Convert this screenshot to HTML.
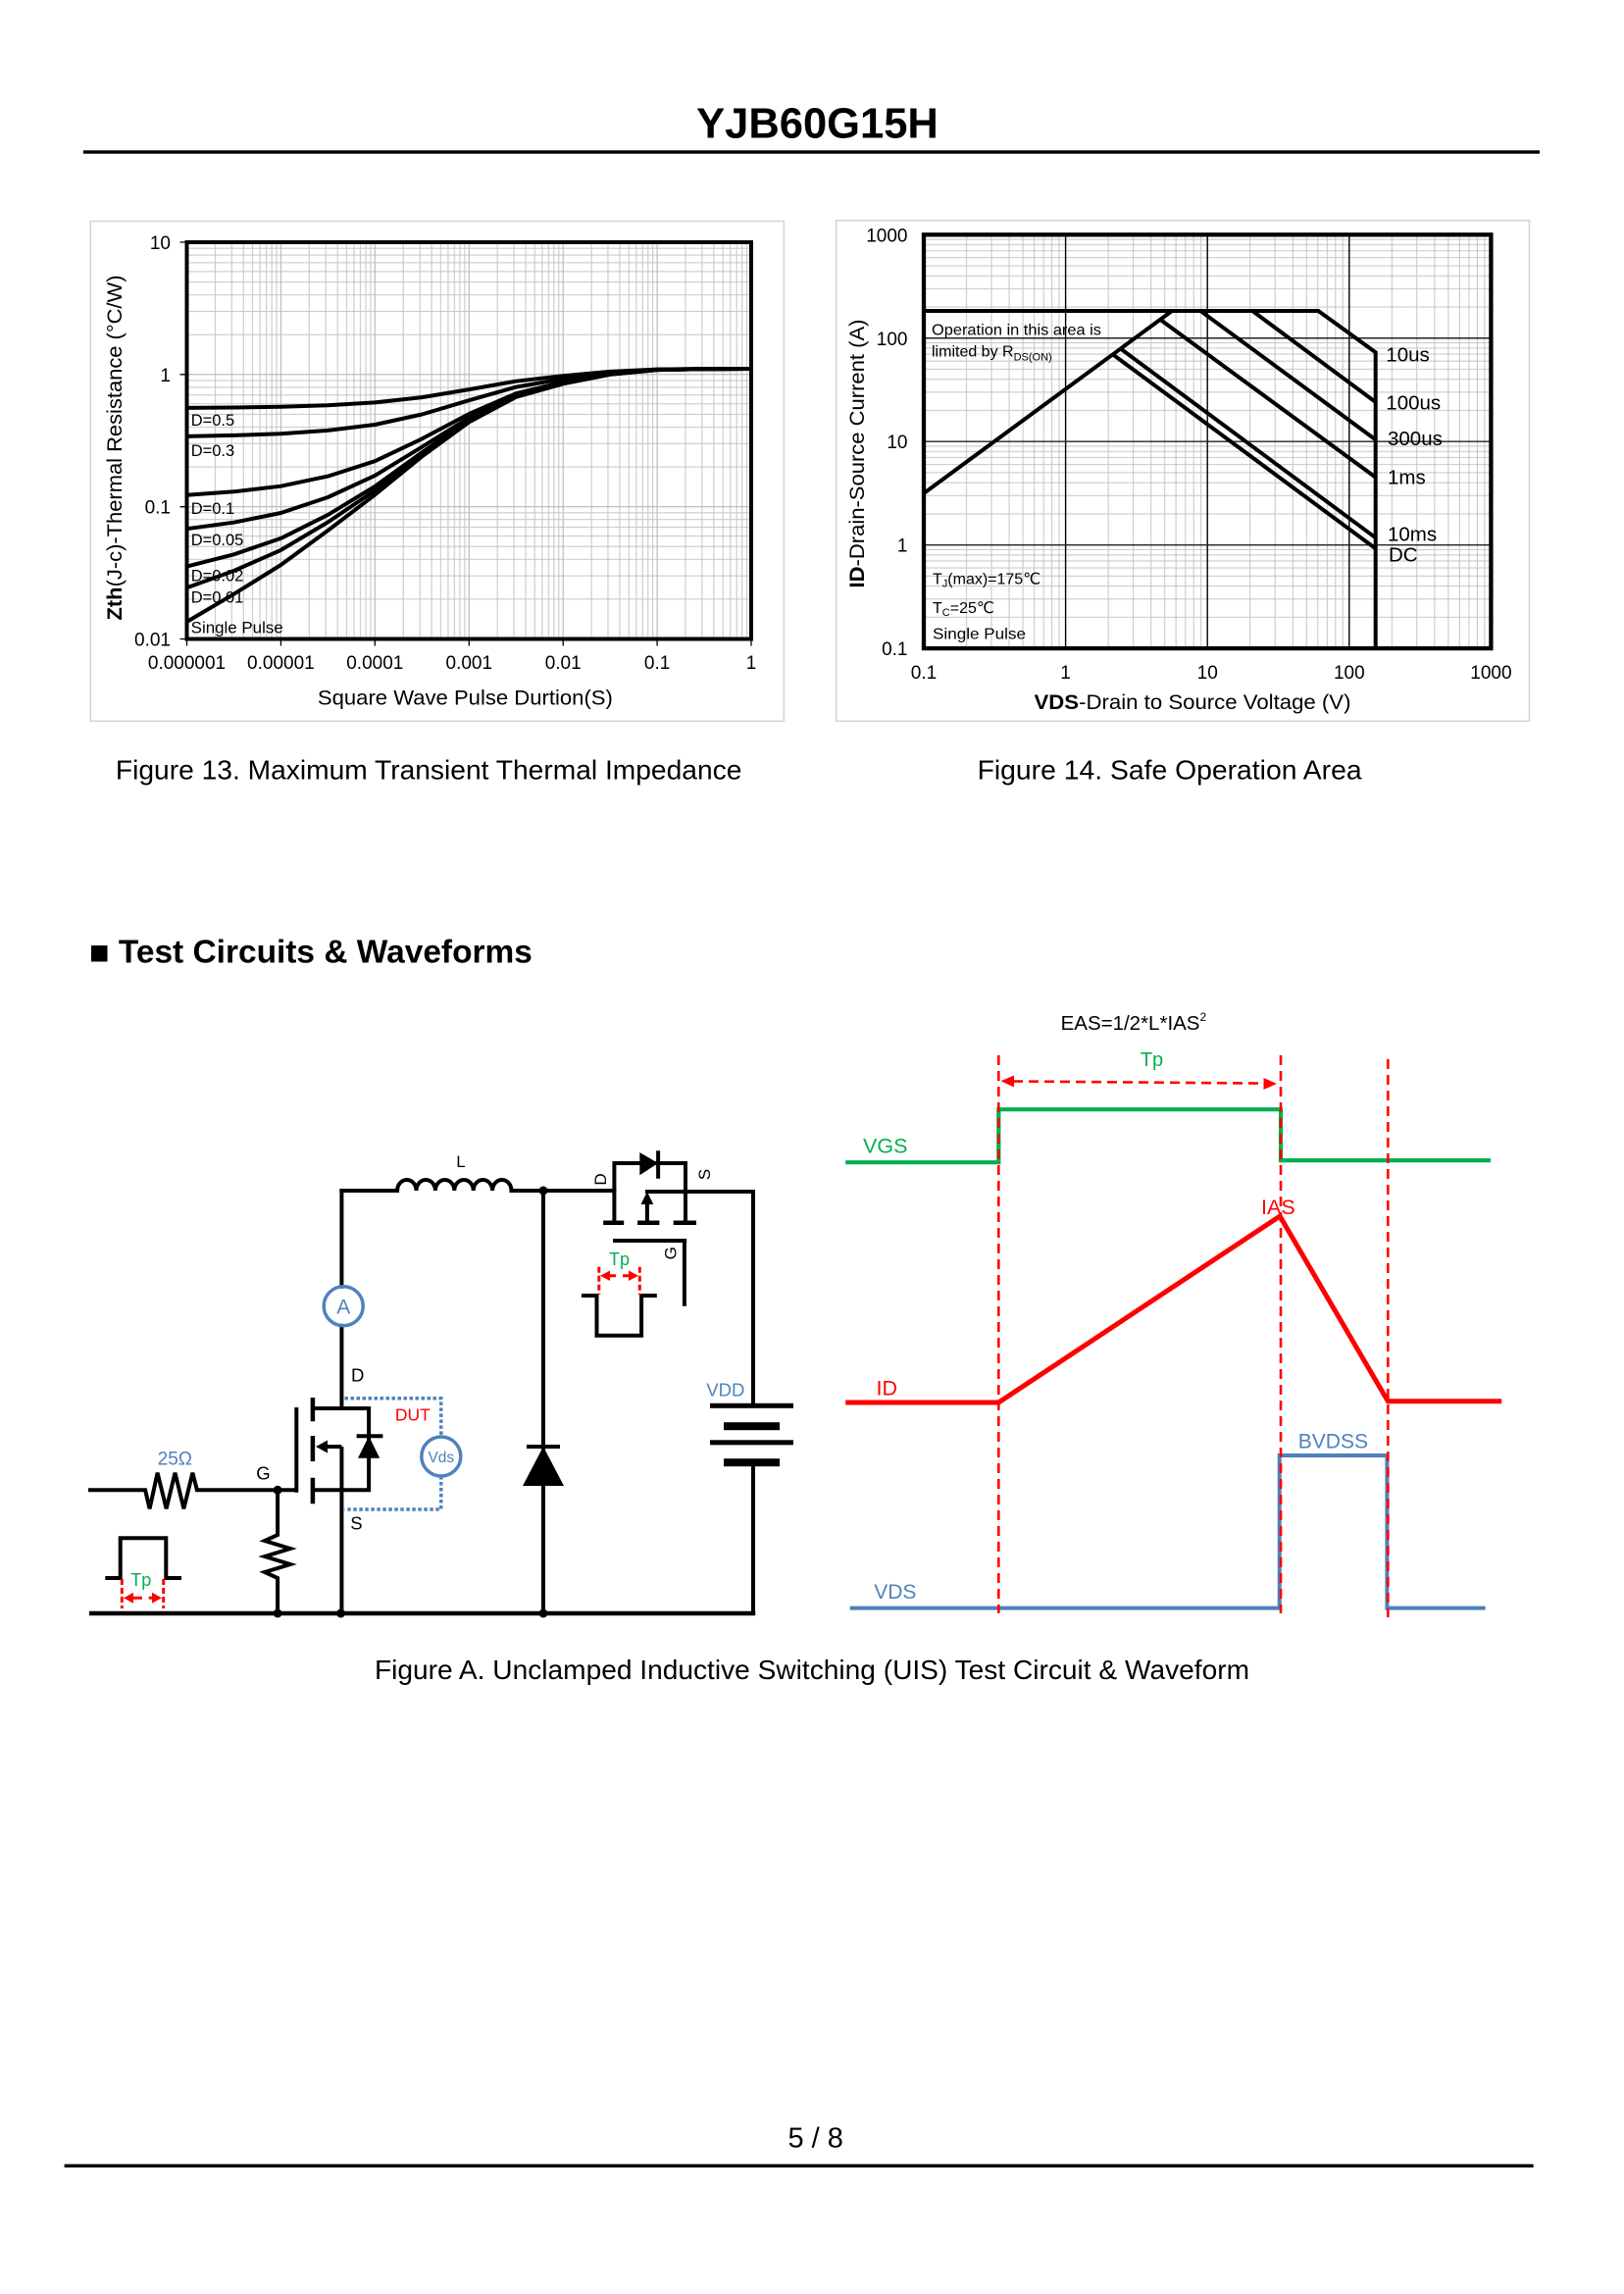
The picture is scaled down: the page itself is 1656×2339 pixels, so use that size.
<!DOCTYPE html>
<html><head><meta charset="utf-8">
<style>
html,body{margin:0;padding:0;background:#fff}
svg{display:block}
text{font-family:"Liberation Sans","DejaVu Sans","Noto Sans CJK SC",sans-serif;fill:#000}
</style></head>
<body>
<svg width="1656" height="2339" viewBox="0 0 1656 2339">
<defs>
<pattern id="p1v" patternUnits="userSpaceOnUse" x="190" y="247" width="95.92" height="404.5">
<g fill="#c4c4c4"><rect x="28.87" y="0" width="1" height="404.5"/><rect x="45.77" y="0" width="1" height="404.5"/><rect x="57.75" y="0" width="1" height="404.5"/><rect x="67.05" y="0" width="1" height="404.5"/><rect x="74.64" y="0" width="1" height="404.5"/><rect x="81.06" y="0" width="1" height="404.5"/><rect x="86.62" y="0" width="1" height="404.5"/><rect x="91.53" y="0" width="1" height="404.5"/></g>
</pattern>
<pattern id="p1h" patternUnits="userSpaceOnUse" x="190.5" y="246.5" width="575.5" height="134.83">
<g fill="#c4c4c4"><rect x="0" y="6.17" width="575.5" height="1"/><rect x="0" y="13.07" width="575.5" height="1"/><rect x="0" y="20.89" width="575.5" height="1"/><rect x="0" y="29.91" width="575.5" height="1"/><rect x="0" y="40.59" width="575.5" height="1"/><rect x="0" y="53.66" width="575.5" height="1"/><rect x="0" y="70.5" width="575.5" height="1"/><rect x="0" y="94.24" width="575.5" height="1"/></g>
</pattern>
<pattern id="p2v" patternUnits="userSpaceOnUse" x="941.5" y="239.3" width="144.6" height="421.8">
<g fill="#c4c4c4"><rect x="43.53" y="0" width="1" height="421.8"/><rect x="68.99" y="0" width="1" height="421.8"/><rect x="87.06" y="0" width="1" height="421.8"/><rect x="101.07" y="0" width="1" height="421.8"/><rect x="112.52" y="0" width="1" height="421.8"/><rect x="122.2" y="0" width="1" height="421.8"/><rect x="130.59" y="0" width="1" height="421.8"/><rect x="137.98" y="0" width="1" height="421.8"/></g>
</pattern>
<pattern id="p2h" patternUnits="userSpaceOnUse" x="942" y="238.8" width="578.4" height="105.45">
<g fill="#c4c4c4"><rect x="0" y="4.83" width="578.4" height="1"/><rect x="0" y="10.22" width="578.4" height="1"/><rect x="0" y="16.33" width="578.4" height="1"/><rect x="0" y="23.39" width="578.4" height="1"/><rect x="0" y="31.74" width="578.4" height="1"/><rect x="0" y="41.96" width="578.4" height="1"/><rect x="0" y="55.14" width="578.4" height="1"/><rect x="0" y="73.71" width="578.4" height="1"/></g>
</pattern>
</defs>

<!-- Header -->
<text x="833.5" y="140.7" font-size="43.5" font-weight="bold" text-anchor="middle">YJB60G15H</text>
<rect x="85" y="153.3" width="1485" height="3.4" fill="#000"/>

<!-- ===== Chart 1 ===== -->
<rect x="92.3" y="225.5" width="707" height="509.8" fill="none" stroke="#d4d4d4" stroke-width="1.5"/>
<rect x="190.5" y="247" width="575.5" height="404.5" fill="url(#p1v)"/>
<rect x="190.5" y="247" width="575.5" height="404.5" fill="url(#p1h)"/>
<path d="M286.4,247V651.5M382.3,247V651.5M478.3,247V651.5M574.2,247V651.5M670.1,247V651.5M190.5,381.8H766M190.5,516.7H766" stroke="#b8b8b8" stroke-width="1.1" fill="none"/>
<g fill="none" stroke="#000" stroke-width="4" stroke-linejoin="round">
<polyline points="190.5,634 238.5,605.7 286.4,576 334.4,540.9 382.3,504.5 430.3,465.4 478.3,430.4 526.2,404.8 574.2,391.3 622.1,381.8 670.1,377.1 718,376.2 766,376"/>
<polyline points="190.5,599.2 238.5,582 286.4,560.9 334.4,532.4 382.3,500.1 430.3,463.3 478.3,429.4 526.2,404.4 574.2,391.1 622.1,381.8 670.1,377.1 718,376.2 766,376"/>
<polyline points="190.5,577.6 238.5,565.3 286.4,548.9 334.4,524.9 382.3,495.9 430.3,461.3 478.3,428.5 526.2,404 574.2,390.9 622.1,381.7 670.1,377.1 718,376.2 766,376"/>
<polyline points="190.5,539.2 238.5,532.7 286.4,523 334.4,507 382.3,484.9 430.3,455.7 478.3,426 526.2,402.9 574.2,390.4 622.1,381.6 670.1,377 718,376.2 766,376"/>
<polyline points="190.5,504.7 238.5,501.3 286.4,495.7 334.4,485.6 382.3,470.2 430.3,447.4 478.3,422 526.2,401.2 574.2,389.6 622.1,381.2 670.1,376.9 718,376.2 766,376"/>
<polyline points="190.5,444.9 238.5,443.9 286.4,442.2 334.4,438.9 382.3,433 430.3,422.5 478.3,408.2 526.2,394.6 574.2,386.3 622.1,380 670.1,376.8 718,376.1 766,376"/>
<polyline points="190.5,415.9 238.5,415.5 286.4,414.7 334.4,413.2 382.3,410.4 430.3,405.1 478.3,397.1 526.2,388.7 574.2,383.2 622.1,378.9 670.1,376.6 718,376.1 766,376"/>
</g>
<rect x="190.5" y="247" width="575.5" height="404.5" fill="none" stroke="#000" stroke-width="4"/>
<g stroke="#000" stroke-width="1.3">
<path d="M183.5,247H190.5M183.5,381.8H190.5M183.5,516.7H190.5M183.5,651.5H190.5"/>
<path d="M190.5,651.5V658.5M286.4,651.5V658.5M382.3,651.5V658.5M478.3,651.5V658.5M574.2,651.5V658.5M670.1,651.5V658.5M766,651.5V658.5"/>
</g>
<g font-size="16.5">
<text x="194.7" y="433.8">D=0.5</text>
<text x="194.7" y="464.8">D=0.3</text>
<text x="194.7" y="524.1">D=0.1</text>
<text x="194.7" y="556.1">D=0.05</text>
<text x="194.7" y="592.3">D=0.02</text>
<text x="194.7" y="614.7">D=0.01</text>
<text x="194.7" y="645.3" textLength="94" lengthAdjust="spacingAndGlyphs">Single Pulse</text>
</g>
<g font-size="19" text-anchor="end">
<text x="174" y="254">10</text>
<text x="174" y="388.8">1</text>
<text x="174" y="523.7">0.1</text>
<text x="174" y="658.3">0.01</text>
</g>
<g font-size="19" text-anchor="middle">
<text x="190.5" y="682">0.000001</text>
<text x="286.4" y="682">0.00001</text>
<text x="382.3" y="682">0.0001</text>
<text x="478.3" y="682">0.001</text>
<text x="574.2" y="682">0.01</text>
<text x="670.1" y="682">0.1</text>
<text x="766" y="682">1</text>
</g>
<text x="474.4" y="718.5" font-size="21.5" text-anchor="middle" textLength="301" lengthAdjust="spacingAndGlyphs">Square Wave Pulse Durtion(S)</text>
<text transform="translate(124,456.5) rotate(-90)" font-size="21.5" text-anchor="middle" textLength="352" lengthAdjust="spacingAndGlyphs"><tspan font-weight="bold">Zth</tspan>(J-c)-Thermal  Resistance (°C/W)</text>

<!-- ===== Chart 2 ===== -->
<rect x="852.7" y="224.8" width="706.8" height="510.5" fill="none" stroke="#d4d4d4" stroke-width="1.5"/>
<rect x="942" y="239.3" width="578.4" height="421.8" fill="url(#p2v)"/>
<rect x="942" y="239.3" width="578.4" height="421.8" fill="url(#p2h)"/>
<path d="M1086.6,239.3V661.1M1231.2,239.3V661.1M1375.8,239.3V661.1" stroke="#000" stroke-width="1.4" fill="none"/>
<path d="M942,344.75H1520.4M942,450.2H1520.4M942,555.65H1520.4" stroke="#222" stroke-width="1.4" fill="none"/>
<g fill="none" stroke="#000" stroke-width="4" stroke-linejoin="miter">
<polyline points="942,317 1344.3,317 1402.7,359.3 1402.7,661"/>
<line x1="942" y1="503" x2="1195.1" y2="317"/>
<line x1="1277.1" y1="317" x2="1402.7" y2="410"/>
<line x1="1224.2" y1="317" x2="1402.7" y2="448.3"/>
<line x1="1183" y1="325.8" x2="1402.7" y2="486.7"/>
<line x1="1142.6" y1="355.5" x2="1402.7" y2="548.3"/>
<line x1="1134.6" y1="361.3" x2="1402.7" y2="559.3"/>
</g>
<rect x="942" y="239.3" width="578.4" height="421.8" fill="none" stroke="#000" stroke-width="4.3"/>
<g font-size="19" text-anchor="end">
<text x="925.5" y="246.3">1000</text>
<text x="925.5" y="351.8">100</text>
<text x="925.5" y="457.2">10</text>
<text x="925.5" y="562.6">1</text>
<text x="925.5" y="668.1">0.1</text>
</g>
<g font-size="19" text-anchor="middle">
<text x="942" y="692">0.1</text>
<text x="1086.6" y="692">1</text>
<text x="1231.2" y="692">10</text>
<text x="1375.8" y="692">100</text>
<text x="1520.4" y="692">1000</text>
</g>
<text x="1216" y="723" font-size="21.5" text-anchor="middle" textLength="323" lengthAdjust="spacingAndGlyphs"><tspan font-weight="bold">VDS</tspan>-Drain to Source Voltage (V)</text>
<text transform="translate(881,462.5) rotate(-90)" font-size="21.5" text-anchor="middle" textLength="274" lengthAdjust="spacingAndGlyphs"><tspan font-weight="bold">ID</tspan>-Drain-Source  Current (A)</text>
<g font-size="16">
<text x="950" y="341.7" textLength="173" lengthAdjust="spacingAndGlyphs">Operation in this area is</text>
<text x="950" y="363.3">limited by R<tspan font-size="11" dy="4">DS(ON)</tspan></text>
<text x="951" y="595.7">T<tspan font-size="11" dy="3">J</tspan><tspan dy="-3">(max)=175℃</tspan></text>
<text x="951" y="624.9">T<tspan font-size="11" dy="3">C</tspan><tspan dy="-3">=25℃</tspan></text>
<text x="951" y="651.5" textLength="95" lengthAdjust="spacingAndGlyphs">Single Pulse</text>
</g>
<g font-size="20.5">
<text x="1413.3" y="368.3">10us</text>
<text x="1413.3" y="417.3">100us</text>
<text x="1415" y="454">300us</text>
<text x="1415" y="493.3">1ms</text>
<text x="1415" y="551.7">10ms</text>
<text x="1416" y="572.3">DC</text>
</g>

<!-- Captions -->
<text x="117.9" y="794.5" font-size="27.5" textLength="638.5" lengthAdjust="spacingAndGlyphs">Figure 13.  Maximum Transient Thermal Impedance</text>
<text x="996.6" y="794.5" font-size="27.5" textLength="392" lengthAdjust="spacingAndGlyphs">Figure 14.  Safe Operation Area</text>

<!-- Section heading -->
<rect x="93" y="964" width="16.5" height="16.5" fill="#000"/>
<text x="120.9" y="981.5" font-size="33" font-weight="bold" textLength="422" lengthAdjust="spacingAndGlyphs">Test Circuits &amp; Waveforms</text>

<!-- ===== Circuit ===== -->
<g fill="none" stroke="#000" stroke-width="4" stroke-linecap="square">
<path d="M348.4,1214H405.1"/>
<path d="M405.1,1214a9.7,11 0 0 1 19.4,0a9.7,11 0 0 1 19.4,0a9.7,11 0 0 1 19.4,0a9.7,11 0 0 1 19.4,0a9.7,11 0 0 1 19.4,0a9.7,11 0 0 1 19.4,0" stroke-linecap="butt"/>
<path d="M521.4,1214H626.4"/>
<path d="M348.4,1214V1311.7M348.4,1351.7V1436"/>
<path d="M320.2,1436H376.1V1519.3H320.2"/>
<path d="M363.6,1464.3H390.4" stroke-linecap="butt"/>
<path d="M318.9,1425V1449.3M318.9,1464V1490M318.9,1506.7V1533.3" stroke-width="4.5" stroke-linecap="butt"/>
<path d="M302.3,1435V1521.7" stroke-linecap="butt"/>
<path d="M90,1519.3H148.1L152.6,1538.3L160.6,1501.7L169.6,1538.3L178.5,1501.7L187.4,1538.3L196.4,1501.7L200.9,1519.3H302.3" stroke-linejoin="miter" stroke-linecap="butt"/>
<path d="M283.1,1519.3V1565L270,1571L296,1579L270,1587L296,1595L270,1603L283.1,1609V1645" stroke-linecap="butt"/>
<path d="M348.4,1475H333" stroke-linecap="butt"/>
<path d="M348.4,1475V1645" stroke-linecap="butt"/>
<path d="M93.3,1645H768" stroke-width="4.5"/>
<path d="M659.9,1215H768V1433M768,1491V1645"/>
<path d="M554,1214V1645" stroke-linecap="butt"/>
<path d="M537,1475H571" stroke-linecap="butt"/>
<path d="M626.4,1246.7V1186H699V1246.7" stroke-linecap="butt"/>
<path d="M671.1,1173.3V1201.7" stroke-linecap="butt"/>
<path d="M615.2,1246.7H636.2M650.1,1246.7H672.4M686.7,1246.7H710" stroke-width="4.5" stroke-linecap="butt"/>
<path d="M659.9,1246.7V1224" stroke-linecap="butt"/>
<path d="M625,1265H700.2M697.9,1265V1331.7" stroke-linecap="butt"/>
<path d="M592.9,1321H608.5V1361.7H654.1V1321H669.8" stroke-linecap="butt"/>
<path d="M107.3,1609H122.7V1568.3H169.3V1609H185" stroke-linecap="butt"/>
</g>
<g fill="#000">
<polygon points="376.1,1464.3 365,1486.7 387.2,1486.7"/>
<polygon points="322,1475 334,1468.5 334,1481.5"/>
<polygon points="554,1475 533,1515 575,1515"/>
<polygon points="652.3,1175 652.3,1198.3 671.1,1186"/>
<polygon points="659.9,1215 653.5,1228 666.3,1228"/>
<circle cx="283.1" cy="1519.3" r="4.5"/>
<circle cx="283.1" cy="1645" r="4.5"/>
<circle cx="347.5" cy="1645" r="4.5"/>
<circle cx="554" cy="1645" r="4.5"/>
<circle cx="554" cy="1214" r="4.5"/>
<rect x="724" y="1430.8" width="85" height="5"/>
<rect x="738" y="1450.2" width="57" height="8"/>
<rect x="724" y="1468.3" width="85" height="5"/>
<rect x="738" y="1487.2" width="57" height="8"/>
</g>
<g fill="none" stroke="#4f81bd" stroke-width="3.5">
<circle cx="350.2" cy="1331.7" r="20"/>
<circle cx="449.8" cy="1485" r="20"/>
<path d="M351.5,1425.7H449.8V1465M449.8,1505V1539H351.5" stroke-dasharray="3.5 2.5"/>
</g>
<g stroke="#f00" stroke-width="3" fill="none">
<path d="M610.8,1291.7V1320M652.3,1291.7V1320M124.3,1610V1640M166.7,1610V1640" stroke-dasharray="6 3"/>
<path d="M621,1300.7H628M635,1300.7H642M135,1629.3H145M151.7,1629.3H158"/>
</g>
<g fill="#f00">
<polygon points="612,1300.7 622,1295.5 622,1306"/>
<polygon points="651,1300.7 641,1295.5 641,1306"/>
<polygon points="126,1629.3 136,1623.8 136,1634.8"/>
<polygon points="165,1629.3 155,1623.8 155,1634.8"/>
</g>
<g font-size="18.5">
<text x="470" y="1190" text-anchor="middle" font-size="17">L</text>
<text x="358" y="1408.3">D</text>
<text x="261.2" y="1508.3">G</text>
<text x="357.3" y="1559.3">S</text>
<text transform="translate(612,1202.5) rotate(-90)" text-anchor="middle" dy="6" font-size="17">D</text>
<text transform="translate(718,1197.5) rotate(-90)" text-anchor="middle" dy="6" font-size="17">S</text>
<text transform="translate(683.4,1277.8) rotate(-90)" text-anchor="middle" dy="6" font-size="17">G</text>
</g>
<text x="402.9" y="1448.3" font-size="17.5" style="fill:#f00">DUT</text>
<g font-size="19" style="fill:#4f81bd">
<text x="350.2" y="1339.5" text-anchor="middle" font-size="21" style="fill:#4f81bd">A</text>
<text x="449.8" y="1491" text-anchor="middle" font-size="15.5" style="fill:#4f81bd">Vds</text>
<text x="178.3" y="1493.3" text-anchor="middle" style="fill:#4f81bd">25Ω</text>
<text x="720.3" y="1423.3" font-size="18.5" style="fill:#4f81bd">VDD</text>
</g>
<text x="621" y="1290" font-size="18" style="fill:#00b050">Tp</text>
<text x="133.3" y="1617" font-size="18" style="fill:#00b050">Tp</text>

<!-- ===== Waveforms ===== -->
<g fill="none" stroke-linejoin="miter" stroke-linecap="butt">
<path d="M862.2,1185.2H1018.3V1131.2H1306V1183.1H1520" stroke="#00b050" stroke-width="4.2"/>
<path d="M862.2,1430H1018.3L1305.1,1240L1415.3,1428.8H1531.2" stroke="#f00" stroke-width="5"/>
<path d="M866.7,1639.6H1304.7V1484H1414.4V1639.6H1514.7" stroke="#4f81bd" stroke-width="4"/>
<path d="M1018.3,1076V1645M1306,1076V1645M1415.3,1080V1649" stroke="#f00" stroke-width="2.6" stroke-dasharray="10 6"/>
<path d="M1033,1102.5L1291,1104.6" stroke="#f00" stroke-width="2.6" stroke-dasharray="10 6"/>
</g>
<g fill="#f00">
<polygon points="1020.5,1102.3 1034,1096.5 1034,1108.5"/>
<polygon points="1302,1105 1288.5,1099 1288.5,1111"/>
</g>
<text x="1081.6" y="1050" font-size="20.5">EAS=1/2*L*IAS<tspan font-size="12" dy="-9">2</tspan></text>
<text x="1174.5" y="1087" font-size="20" text-anchor="middle" style="fill:#00b050">Tp</text>
<text x="880" y="1175.6" font-size="21.5" style="fill:#00b050">VGS</text>
<text x="1286" y="1238" font-size="21.5" style="fill:#f00">IAS</text>
<text x="893.5" y="1422.6" font-size="21.5" style="fill:#f00">ID</text>
<text x="1323.8" y="1476.5" font-size="21" style="fill:#4f81bd">BVDSS</text>
<text x="891.2" y="1630" font-size="21" style="fill:#4f81bd">VDS</text>

<!-- Figure A caption -->
<text x="382" y="1712" font-size="27.5" textLength="892" lengthAdjust="spacingAndGlyphs">Figure A.  Unclamped Inductive Switching (UIS) Test Circuit &amp; Waveform</text>

<!-- Footer -->
<text x="831.7" y="2189.3" font-size="29" text-anchor="middle">5 / 8</text>
<rect x="65.6" y="2206.6" width="1498" height="3.4" fill="#000"/>
</svg>
</body></html>
